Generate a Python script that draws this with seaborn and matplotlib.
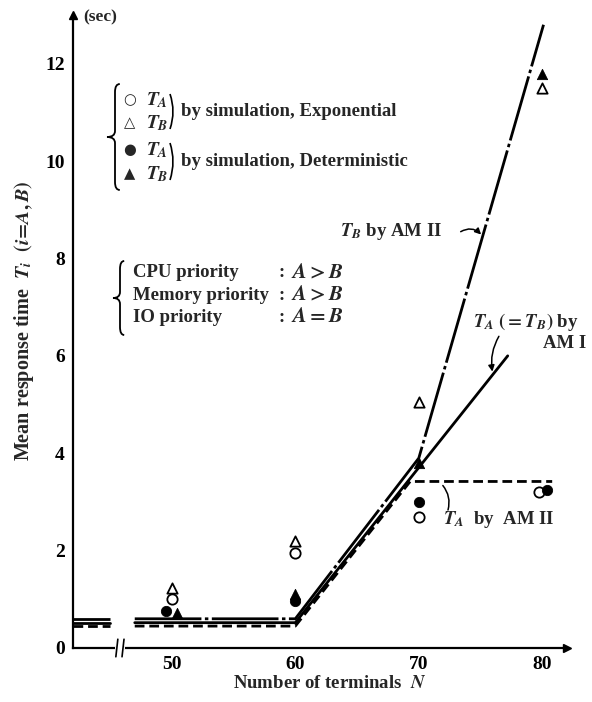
import matplotlib
matplotlib.use("Agg")
import matplotlib.pyplot as plt
from matplotlib.path import Path
from matplotlib.patches import PathPatch
import seaborn as sns
import pandas as pd

# ---------------- data ----------------
# Analytic models (segments: left of the axis break, right of it)
tb_am2_N_left = [42, 45]
tb_am2_left = [0.6, 0.6]
tb_am2_N = [47, 60, 70, 80.1]
tb_am2 = [0.6, 0.6, 3.9, 12.8]

am1_N_left = [42, 45]
am1_left = [0.52, 0.52]
am1_N = [47, 60, 77.2]
am1 = [0.52, 0.52, 6.0]

ta_am2_N_left = [42, 45]
ta_am2_left = [0.45, 0.45]
ta_am2_N = [47, 60, 69.3, 80.8]
ta_am2 = [0.45, 0.45, 3.42, 3.42]

# Simulation points
exp_ta_N = [50, 60, 70, 79.7]
exp_ta = [1.0, 1.95, 2.7, 3.2]
exp_tb_N = [50, 60, 70, 80]
exp_tb = [1.23, 2.2, 5.05, 11.5]
det_ta_N = [49.5, 60, 70, 80.4]
det_ta = [0.75, 0.97, 3.0, 3.25]
det_tb_N = [50.4, 60, 70, 80]
det_tb = [0.72, 1.1, 3.8, 11.78]

x_ticks = [50, 60, 70, 80]
y_ticks = [0, 2, 4, 6, 8, 10, 12]

# ---------------- style ----------------
sns.set_style("white")
plt.rcParams['font.family'] = ['Liberation Serif', 'DejaVu Serif']
plt.rcParams['font.weight'] = 'bold'
plt.rcParams['mathtext.fontset'] = 'stix'
plt.rcParams['lines.scale_dashes'] = False

W, H = 592, 702
fig = plt.figure(figsize=(W / 100, H / 100), dpi=100)
L, R, B, T = 73, 567, 648, 15
ax = fig.add_axes([L / W, 1 - B / H, (R - L) / W, (B - T) / H])
ax.set_xlim(42, 82)
ax.set_ylim(0, 13.0)


def px(x, y):
    return (x / W, 1 - y / H)


def seg(N, v, ls, lw=2.0):
    df = pd.DataFrame({"N": N, "T": v})
    sns.lineplot(data=df, x="N", y="T", ax=ax, color="black", lw=lw,
                 linestyle=ls, estimator=None, sort=False)


dashdot = (0, (48, 2.5, 2.5, 2.5))
dashed = (0, (7, 3.5))
seg(tb_am2_N_left, tb_am2_left, dashdot)
seg(tb_am2_N, tb_am2, dashdot)
seg(am1_N_left, am1_left, "-")
seg(am1_N, am1, "-")
seg(ta_am2_N_left, ta_am2_left, dashed)
seg(ta_am2_N, ta_am2, dashed)

ms = 55
sns.scatterplot(x=exp_ta_N, y=exp_ta, ax=ax, marker="o", s=ms,
                facecolor="white", edgecolor="black", linewidth=1.3, zorder=5)
sns.scatterplot(x=exp_tb_N, y=exp_tb, ax=ax, marker="^", s=ms,
                facecolor="white", edgecolor="black", linewidth=1.3, zorder=5)
sns.scatterplot(x=det_ta_N, y=det_ta, ax=ax, marker="o", s=ms,
                color="black", edgecolor="black", zorder=6)
sns.scatterplot(x=det_tb_N, y=det_tb, ax=ax, marker="^", s=ms,
                color="black", edgecolor="black", zorder=6)

# ---------------- axes ----------------
for s in ["top", "right"]:
    ax.spines[s].set_visible(False)
for s in ["left", "bottom"]:
    ax.spines[s].set_linewidth(1.6)
    ax.spines[s].set_color("black")

ax.set_xticks(x_ticks)
ax.set_yticks(y_ticks)
ax.set_yticklabels([str(v) for v in y_ticks])
ax.tick_params(axis="both", direction="in", length=6, width=1.2,
               labelsize=14, colors="black", pad=6)
for lab in ax.get_xticklabels() + ax.get_yticklabels():
    lab.set_fontweight("bold")
ax.set_xlabel("")
ax.set_ylabel("")

# arrow heads on axes
ax.plot(1, 0, ">", transform=ax.transAxes, color="black", ms=6, clip_on=False)
ax.plot(0, 1, "^", transform=ax.transAxes, color="black", ms=6, clip_on=False)

# axis break
bx = 45.8
ax.plot([bx - 0.25, bx + 0.25], [0, 0], color="white", lw=3, clip_on=False, zorder=7)
for dx in (-0.25, 0.25):
    ax.plot([bx + dx - 0.08, bx + dx + 0.08], [-0.18, 0.18], color="black",
            lw=1.2, clip_on=False, zorder=8)


def fpath(verts, codes, lw=1.3):
    pts = [px(x, y) for x, y in verts]
    p = PathPatch(Path(pts, codes), transform=fig.transFigure, fill=False,
                  edgecolor="black", lw=lw)
    fig.add_artist(p)


def brace(x_tip, x_body, y0, y1, lw=1.3):
    ym = (y0 + y1) / 2
    xr = x_body + (x_body - x_tip) * 0.6
    C3 = Path.CURVE3
    verts = [(xr, y0), (x_body, y0), (x_body, y0 + 8),
             (x_body, ym - 6),
             (x_body, ym), (x_tip, ym),
             (x_body, ym), (x_body, ym + 6),
             (x_body, y1 - 8),
             (x_body, y1), (xr, y1)]
    codes = [Path.MOVETO, C3, C3, Path.LINETO, C3, C3, C3, C3,
             Path.LINETO, C3, C3]
    fpath(verts, codes, lw)


def rparen(x, y0, y1, bulge=6, lw=1.2):
    verts = [(x, y0), (x + bulge, (y0 + y1) / 2), (x, y1)]
    codes = [Path.MOVETO, Path.CURVE3, Path.CURVE3]
    fpath(verts, codes, lw)


fs = 13.5
fig.text(*px(83, 17), "(sec)", fontsize=12.5, fontweight="bold", va="center")

fig.text(*px(330, 684), r"Number of terminals  $N$", fontsize=13.5,
         fontweight="bold", ha="center", va="center")
fig.text(*px(24, 321), r"Mean response time  $T_i$  $(i\!=\!A,B)$", fontsize=14.5,
         fontweight="bold", ha="center", va="center", rotation=90)

# legend 1
brace(107, 115, 84, 190)
sym = ["○", "△", "●", "▲"]
lab = [r"$T_A$", r"$T_B$", r"$T_A$", r"$T_B$"]
ys = [100, 123, 150, 174]
for s_, l_, y_ in zip(sym, lab, ys):
    fig.text(*px(130, y_), s_, fontsize=10.5, ha="center", va="center",
             family=["DejaVu Sans"])
    fig.text(*px(146, y_), l_, fontsize=14, ha="left", va="center")
rparen(170, 94, 129)
rparen(170, 143, 180)
fig.text(*px(181, 111), "by simulation, Exponential", fontsize=fs,
         fontweight="bold", va="center")
fig.text(*px(181, 161), "by simulation, Deterministic", fontsize=fs,
         fontweight="bold", va="center")

# legend 2
brace(113, 120, 261, 335)
rows = [("CPU priority", r"$A>B$", 273), ("Memory priority", r"$A>B$", 295),
        ("IO priority", r"$A=B$", 317)]
for name, rel, y_ in rows:
    fig.text(*px(133, y_), name, fontsize=fs, fontweight="bold", va="center")
    fig.text(*px(279, y_), ":", fontsize=fs, fontweight="bold", va="center")
    fig.text(*px(291, y_), rel, fontsize=15, va="center")

# annotations for model lines
fig.text(*px(340, 232), r"$T_B$ by AM II", fontsize=fs, fontweight="bold",
         va="center", ha="left")
ax.annotate("", xy=(75.2, 8.45), xytext=(73.2, 8.52),
            arrowprops=dict(arrowstyle="-|>", color="black", lw=1.1,
                            connectionstyle="arc3,rad=-0.45", mutation_scale=9))
fig.text(*px(473, 322), r"$T_A$ $(=T_B)$ by", fontsize=fs, fontweight="bold",
         va="center", ha="left")
fig.text(*px(543, 344), "AM I", fontsize=fs, fontweight="bold",
         va="center", ha="left")
ax.annotate("", xy=(76.0, 5.62), xytext=(76.6, 6.45),
            arrowprops=dict(arrowstyle="-|>", color="black", lw=1.1,
                            connectionstyle="arc3,rad=0.2", mutation_scale=9))
fig.text(*px(443, 520), r"$T_A$  by  AM II", fontsize=fs, fontweight="bold",
         va="center", ha="left")
ax.annotate("", xy=(71.8, 3.38), xytext=(72.3, 2.78),
            arrowprops=dict(arrowstyle="-", color="black", lw=1.1,
                            connectionstyle="arc3,rad=0.3"))

fig.savefig("out.png", dpi=100)
